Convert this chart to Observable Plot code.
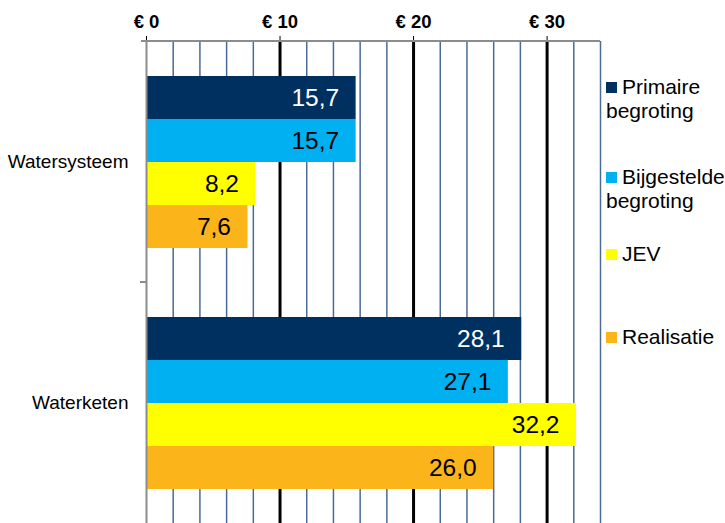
<!DOCTYPE html>
<html><head><meta charset="utf-8">
<script src="https://cdn.jsdelivr.net/npm/d3@7"></script>
<script src="https://cdn.jsdelivr.net/npm/@observablehq/plot@0.6"></script>
<style>
body{margin:0;background:#fff;font-family:"Liberation Sans",Arial,sans-serif;}
#wrap{position:relative;width:725px;height:523px;overflow:hidden;}
#wrap svg{position:absolute;left:0;top:0;}
g[aria-label="x-axis tick label"] text{font-weight:bold;font-size:18.5px;}
g[aria-label="fy-axis tick label"] text{font-size:19px;}
.leg{position:absolute;left:606px;font-size:21px;line-height:24px;color:#000;}
.leg .sw{position:absolute;left:0;top:7px;width:11px;height:11px;}
.leg .tx{margin-left:16px;white-space:pre;}
</style></head><body><div id="wrap"></div>
<script>
const categories = ["Watersysteem", "Waterketen"];
const series = ["Primaire begroting", "Bijgestelde begroting", "JEV", "Realisatie"];
const legendLabels = ["Primaire\nbegroting", "Bijgestelde\nbegroting", "JEV", "Realisatie"];
const watersysteem = [15.7, 15.7, 8.2, 7.6];
const waterketen = [28.1, 27.1, 32.2, 26.0];
const colors = ["#00305F", "#00B0F0", "#FFFF00", "#FBB41A"];
const labelColors = ["#ffffff", "#000000", "#000000", "#000000"];
const xMajor = [0, 10, 20, 30];
const xMinor = [2, 4, 6, 8, 12, 14, 16, 18, 22, 24, 26, 28, 32, 34];
const legendTops = [75, 165, 242, 325];

const valuesBy = [watersysteem, waterketen];
const rows = categories.flatMap((c, i) => series.map((s, j) => ({category: c, series: s, value: valuesBy[i][j], idx: j})));
const fmt = v => v.toFixed(1).replace(".", ",");

const chart = Plot.plot({
  width: 725, height: 523,
  marginTop: 41, marginBottom: 0, marginLeft: 146, marginRight: 125,
  style: {fontFamily: "Liberation Sans, Arial, sans-serif", background: "#fff", color: "#000"},
  x: {domain: [0, 34], axis: "top", ticks: xMajor, tickFormat: d => "€ " + d, tickSize: 6, tickPadding: 8, label: null},
  fy: {domain: categories, padding: 0, axis: "left", tickSize: 0, tickPadding: 18, label: null},
  y: {domain: series, paddingInner: 0, paddingOuter: 0.74, axis: null},
  color: {domain: series, range: colors},
  marks: [
    Plot.ruleX(xMinor, {stroke: "#4A6B98", strokeWidth: 1.5}),
    Plot.ruleX(xMajor.slice(1), {stroke: "#000", strokeWidth: 3}),
    Plot.barX(rows, {x: "value", y: "series", fy: "category", fill: "series"}),
    Plot.ruleX([0], {stroke: "#8c8c8c", strokeWidth: 2}),
    Plot.text(rows, {x: "value", y: "series", fy: "category", text: d => fmt(d.value),
      textAnchor: "end", dx: -17, fill: d => labelColors[d.idx], fontSize: 24.5})
  ]
});

// axis line on top and separator tick between the groups, placed with Plot's scales
const svg = d3.select(chart);
const xs = chart.scale("x");
const xf = v => (xs.apply ? xs.apply(v) : d3.scaleLinear(xs.domain, xs.range)(v));
svg.append("line").attr("x1", xf(0) - 5).attr("x2", xf(34)).attr("y1", 41).attr("y2", 41)
  .attr("stroke", "#8c8c8c").attr("stroke-width", 2);
const fys = chart.scale("fy");
let yb;
if (fys && fys.apply) yb = fys.apply(categories[1]);
else if (fys) yb = (fys.range[0] + fys.range[1]) / 2;
if (yb != null) {
  svg.append("line").attr("x1", xf(0) - 6).attr("x2", xf(0)).attr("y1", yb).attr("y2", yb)
    .attr("stroke", "#8c8c8c").attr("stroke-width", 2);
}
const wrap = document.getElementById("wrap");
wrap.appendChild(chart);

legendLabels.forEach((t, i) => {
  const d = document.createElement("div");
  d.className = "leg";
  d.style.top = legendTops[i] + "px";
  d.innerHTML = `<span class="sw" style="background:${colors[i]}"></span><span class="tx"></span>`;
  d.querySelector(".tx").textContent = t;
  wrap.appendChild(d);
});
</script></body></html>
